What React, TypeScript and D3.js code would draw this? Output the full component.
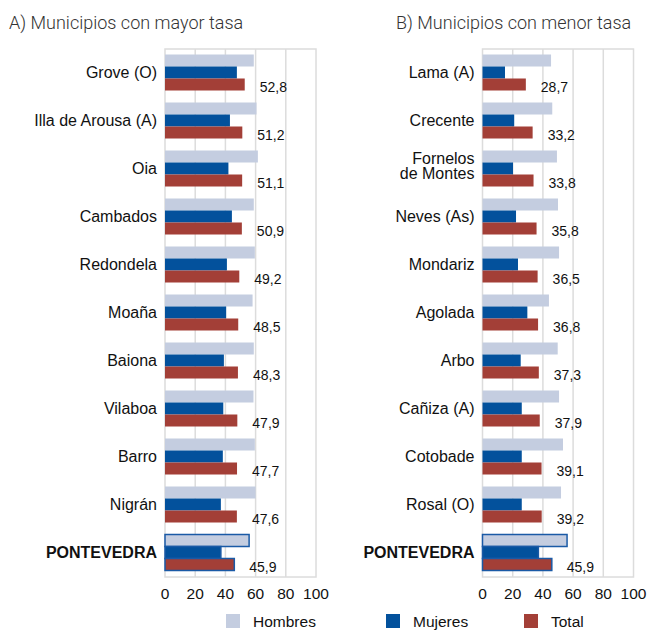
import { useEffect, useRef } from "react";
import * as d3 from "d3";

const seriesNames = ["Hombres", "Mujeres", "Total"];
const seriesColors = ["#c4cde0", "#03519c", "#a33f37"];

const catsA = ["Grove (O)", "Illa de Arousa (A)", "Oia", "Cambados", "Redondela", "Moaña", "Baiona", "Vilaboa", "Barro", "Nigrán", "PONTEVEDRA"];
const hombresA = [58.8, 60.6, 61.5, 58.8, 59.5, 58.0, 58.8, 58.6, 59.5, 60.0, 55.7];
const mujeresA = [47.6, 43.0, 42.0, 44.3, 41.0, 40.5, 39.0, 38.6, 38.3, 37.0, 37.0];
const totalA = [52.8, 51.2, 51.1, 50.9, 49.2, 48.5, 48.3, 47.9, 47.7, 47.6, 45.9];

const catsB = ["Lama (A)", "Crecente", "Fornelos\nde Montes", "Neves (As)", "Mondariz", "Agolada", "Arbo", "Cañiza (A)", "Cotobade", "Rosal (O)", "PONTEVEDRA"];
const hombresB = [45.4, 46.2, 49.3, 50.0, 50.7, 44.0, 49.8, 50.7, 53.3, 52.0, 56.0];
const mujeresB = [14.9, 21.0, 20.2, 22.2, 23.5, 29.7, 25.3, 26.0, 26.0, 26.0, 37.0];
const totalB = [28.7, 33.2, 33.8, 35.8, 36.5, 36.8, 37.3, 37.9, 39.1, 39.2, 45.9];

const xTicks = [0, 20, 40, 60, 80, 100];

const FONT = "'Liberation Sans', Arial, sans-serif";

export default function App() {
  const svgRef = useRef<SVGSVGElement>(null);

  useEffect(() => {
    if (!svgRef.current) return;
    const svg = d3.select(svgRef.current);
    svg.selectAll("*").remove();

    const top = 49;
    const bottom = 577;

    const panels = [
      { title: "A) Municipios con mayor tasa", titleX: 9, x0: 165, cats: catsA, vals: [hombresA, mujeresA, totalA] },
      { title: "B) Municipios con menor tasa", titleX: 396, x0: 482.5, cats: catsB, vals: [hombresB, mujeresB, totalB] },
    ];

    panels.forEach((p) => {
      const g = svg.append("g");
      const x = d3.scaleLinear().domain([0, 100]).range([p.x0, p.x0 + 151]);
      const y = d3.scaleBand<string>().domain(p.cats).range([top, bottom]);
      const inner = d3
        .scaleBand<number>()
        .domain([0, 1, 2])
        .range([5.5, y.bandwidth() - 6.5]);

      // title
      g.append("text")
        .attr("x", p.titleX)
        .attr("y", 29)
        .attr("font-family", "Roboto, 'Open Sans', sans-serif")
        .attr("font-weight", 300)
        .attr("font-size", 18)
        .attr("fill", "#333")
        .text(p.title);

      // frame + grid
      g.append("rect")
        .attr("x", x(0))
        .attr("y", top)
        .attr("width", x(100) - x(0))
        .attr("height", bottom - top)
        .attr("fill", "none")
        .attr("stroke", "#dcdcdc")
        .attr("stroke-width", 1.5);

      g.selectAll("line.grid")
        .data(xTicks.slice(1, -1))
        .enter()
        .append("line")
        .attr("x1", (d) => x(d))
        .attr("x2", (d) => x(d))
        .attr("y1", top)
        .attr("y2", bottom)
        .attr("stroke", "#dcdcdc")
        .attr("stroke-width", 1.5);

      // tick labels
      g.selectAll("text.tick")
        .data(xTicks)
        .enter()
        .append("text")
        .attr("x", (d) => x(d))
        .attr("y", 599)
        .attr("text-anchor", "middle")
        .attr("font-family", FONT)
        .attr("font-size", 15.5)
        .attr("fill", "#111")
        .text((d) => d);

      p.cats.forEach((c, i) => {
        const y0 = y(c) ?? 0;
        const isTotal = c === "PONTEVEDRA";
        p.vals.forEach((vals, s) => {
          g.append("rect")
            .attr("x", x(0))
            .attr("y", y0 + (inner(s) ?? 0))
            .attr("width", x(vals[i]) - x(0))
            .attr("height", inner.bandwidth())
            .attr("fill", seriesColors[s])
            .attr("stroke", isTotal ? "#1a5aa6" : "none")
            .attr("stroke-width", isTotal ? 1.5 : 0);
        });

        // value label
        const tv = p.vals[2][i];
        g.append("text")
          .attr("x", x(tv) + 15)
          .attr("y", y0 + (inner(2) ?? 0) + inner.bandwidth() / 2 + 7)
          .attr("font-family", FONT)
          .attr("font-size", 14)
          .attr("fill", "#111")
          .text(d3.format(".1f")(tv).replace(".", ","));

        // category label
        const lines = c.split("\n");
        const cy = y0 + (inner(1) ?? 0) + inner.bandwidth() / 2 - (lines.length > 1 ? 2.5 : 0);
        const lab = g
          .append("text")
          .attr("text-anchor", "end")
          .attr("font-family", FONT)
          .attr("font-size", 16)
          .attr("font-weight", isTotal ? "bold" : "normal")
          .attr("fill", "#111");
        lines.forEach((ln, k) => {
          lab
            .append("tspan")
            .attr("x", x(0) - 8)
            .attr("y", cy + 5.5 + (k - (lines.length - 1) / 2) * 15.5)
            .text(ln);
        });
      });
    });

    // legend
    const legendX = [226, 386, 524];
    seriesNames.forEach((n, s) => {
      svg
        .append("rect")
        .attr("x", legendX[s])
        .attr("y", 614)
        .attr("width", 14)
        .attr("height", 14)
        .attr("fill", seriesColors[s]);
      svg
        .append("text")
        .attr("x", legendX[s] + 27)
        .attr("y", 627)
        .attr("font-family", FONT)
        .attr("font-size", 15.5)
        .attr("fill", "#111")
        .text(n);
    });
  }, []);

  return (
    <svg
      ref={svgRef}
      width={648}
      height={630}
      style={{ position: "absolute", left: 0, top: 0, background: "#fff" }}
    />
  );
}
